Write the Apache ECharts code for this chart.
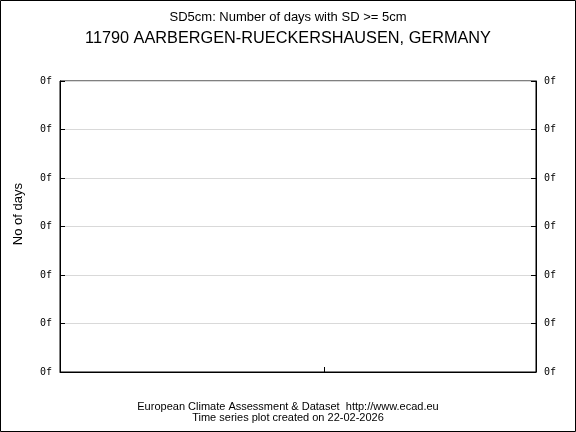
<!DOCTYPE html>
<html><head><meta charset="utf-8">
<script src="https://cdn.jsdelivr.net/npm/echarts@6/dist/echarts.min.js"></script>
<style>html,body{margin:0;padding:0;background:#fff}#c{width:576px;height:432px}</style>
</head><body><div id="c"></div>
<script>
const title1 = 'SD5cm: Number of days with SD >= 5cm';
const title2 = '11790 AARBERGEN-RUECKERSHAUSEN, GERMANY';
const yAxisName = 'No of days';
const yTickLabels = ['0f','0f','0f','0f','0f','0f','0f'];
const footer1 = 'European Climate Assessment & Dataset  http://www.ecad.eu';
const footer2 = 'Time series plot created on 22-02-2026';
const seriesValues = [];

const chart = echarts.init(document.getElementById('c'), null, {renderer:'canvas'});
const yAxisCommon = {
  type:'value', min:0, max:6, interval:1,
  axisLine:{show:true, lineStyle:{color:'#000', width:1}},
  axisTick:{show:true, inside:true, length:5, lineStyle:{color:'#000'}},
  axisLabel:{formatter:(v,i)=>yTickLabels[i] ?? '0f', color:'#000', fontFamily:'DejaVu Sans Mono', fontSize:10, margin:8},
};
chart.setOption({
  animation:false,
  backgroundColor:'#fff',
  title:[
    {text:title1, left:'center', top:6, textStyle:{fontFamily:'Liberation Sans', fontSize:13, fontWeight:'normal', color:'#000'}},
    {text:title2, left:'center', top:26, textStyle:{fontFamily:'Liberation Sans', fontSize:16.3, fontWeight:'normal', color:'#000'}},
    {text:footer1, left:'center', top:396, textStyle:{fontFamily:'Liberation Sans', fontSize:11, fontWeight:'normal', color:'#000'}},
    {text:footer2, left:'center', top:407, textStyle:{fontFamily:'Liberation Sans', fontSize:11, fontWeight:'normal', color:'#000'}}
  ],
  grid:{left:60, right:40, top:81, bottom:60, show:true, borderColor:'#000', borderWidth:1},
  xAxis:{type:'value', min:0, max:1.8, interval:1,
    axisLine:{show:true, onZero:false, lineStyle:{color:'#000'}},
    axisTick:{show:true, inside:true, length:5, lineStyle:{color:'#000'}},
    axisLabel:{show:false}, splitLine:{show:false}},
  yAxis:[
    Object.assign({}, yAxisCommon, {position:'left',
      splitLine:{show:true, lineStyle:{color:'#d9d9d9', width:1}}}),
    Object.assign({}, yAxisCommon, {position:'right', splitLine:{show:false}})
  ],
  series:[{type:'line', data:seriesValues, yAxisIndex:0}],
  graphic:[
    {type:'text', left:12, top:183, style:{text:yAxisName, font:'13px "Liberation Sans"', fill:'#000'}, silent:true, rotation:Math.PI/2},
    {type:'rect', shape:{x:0.5, y:0.5, width:575, height:431}, style:{fill:'none', stroke:'#000', lineWidth:1}, silent:true}
  ]
});
</script></body></html>
